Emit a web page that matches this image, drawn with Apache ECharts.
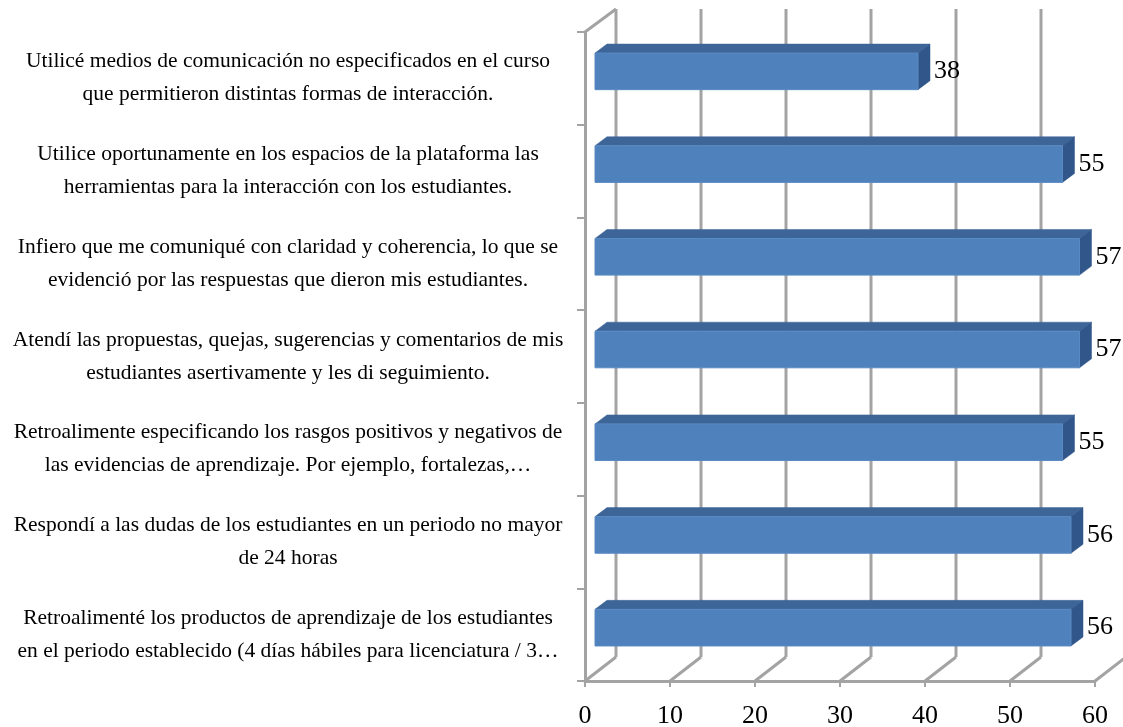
<!DOCTYPE html>
<html>
<head>
<meta charset="utf-8">
<script src="https://cdn.jsdelivr.net/npm/echarts@6/dist/echarts.min.js"></script>
<style>
  html, body { margin: 0; padding: 0; background: #ffffff; }
  #chart { width: 1123px; height: 727px; }
</style>
</head>
<body>
<div id="chart"></div>
<script>
// ---- data ----
const categories = [
  "Utilicé medios de comunicación no especificados en el curso\nque permitieron distintas formas de interacción.",
  "Utilice oportunamente en los espacios de la plataforma las\nherramientas para la interacción con los estudiantes.",
  "Infiero que me comuniqué con claridad y coherencia, lo que se\nevidenció por las respuestas que dieron mis estudiantes.",
  "Atendí las propuestas, quejas, sugerencias y comentarios de mis\nestudiantes asertivamente y les di seguimiento.",
  "Retroalimente especificando los rasgos positivos y negativos de\nlas evidencias de aprendizaje. Por ejemplo, fortalezas,…",
  "Respondí a las dudas de los estudiantes en un periodo no mayor\nde 24 horas",
  "Retroalimenté los productos de aprendizaje de los estudiantes\nen el periodo establecido (4 días hábiles para licenciatura / 3…"
];
const values = [38, 55, 57, 57, 55, 56, 56];
const xTicks = [0, 10, 20, 30, 40, 50, 60];

// ---- style constants ----
const GRID_COLOR = '#a3a3a3';
const WALL_DX = 31, WALL_DY = -24;      // depth of the back wall
const BAR_DX = 10, BAR_DY = -7;         // bar front face offset
const DEPTH_DX = 12, DEPTH_DY = -9;     // bar depth
const BAR_FRAC = 0.395;
const SERIF = '"Liberation Serif", "Times New Roman", serif';

const chart = echarts.init(document.getElementById('chart'), null, { renderer: 'canvas' });

const xMax = xTicks[xTicks.length - 1];

const option = {
  animation: false,
  backgroundColor: '#ffffff',
  grid: { left: 585, right: 28, top: 32, bottom: 46, containLabel: false, outerBoundsMode: 'none' },
  xAxis: {
    type: 'value',
    min: xTicks[0],
    max: xMax,
    interval: xTicks[1] - xTicks[0],
    axisLine: { show: true, lineStyle: { color: GRID_COLOR, width: 3 } },
    axisTick: { show: true, length: 6, lineStyle: { color: GRID_COLOR, width: 2 } },
    splitLine: { show: false },
    axisLabel: { color: '#000', fontSize: 26, fontFamily: SERIF, margin: 22 }
  },
  yAxis: {
    type: 'category',
    inverse: true,
    data: categories,
    axisLine: { show: true, lineStyle: { color: GRID_COLOR, width: 3 } },
    axisTick: { show: true, length: 8, lineStyle: { color: GRID_COLOR, width: 2 } },
    splitLine: { show: false },
    axisLabel: {
      color: '#000', fontSize: 21.5, fontFamily: SERIF, lineHeight: 33,
      align: 'center', margin: 297
    }
  },
  series: [
    {
      type: 'custom',
      z: 1,
      silent: true,
      data: xTicks.map(v => [v, 0]),
      encode: { x: 0, y: 1 },
      renderItem: function (params, api) {
        const cs = params.coordSys;
        const v = api.value(0);
        const x = api.coord([v, 0])[0];
        const top = cs.y, bottom = cs.y + cs.height;
        const st = { stroke: GRID_COLOR, lineWidth: 3, fill: null };
        const children = [
          { type: 'line', shape: { x1: x, y1: bottom, x2: x + WALL_DX, y2: bottom + WALL_DY }, style: st }
        ];
        if (v < xMax) {
          children.push({ type: 'line', shape: { x1: x + WALL_DX, y1: top + WALL_DY + 1, x2: x + WALL_DX, y2: bottom + WALL_DY }, style: st });
        }
        if (v === xTicks[0]) {
          children.push({ type: 'line', shape: { x1: x, y1: top, x2: x + WALL_DX, y2: top + WALL_DY + 1 }, style: st });
        }
        return { type: 'group', children: children };
      }
    },
    {
      type: 'custom',
      z: 3,
      data: values.map((v, i) => [v, i]),
      encode: { x: 0, y: 1 },
      renderItem: function (params, api) {
        const v = api.value(0), idx = api.value(1);
        const p0 = api.coord([0, idx]);
        const p1 = api.coord([v, idx]);
        const band = api.size([0, 1])[1];
        const h = band * BAR_FRAC;
        const x0 = p0[0] + BAR_DX, x1 = p1[0] + BAR_DX;
        const cy = p0[1] + BAR_DY;
        const yT = cy - h / 2, yB = cy + h / 2;
        return {
          type: 'group',
          children: [
            { type: 'polygon', shape: { points: [[x0, yT], [x1, yT], [x1 + DEPTH_DX, yT + DEPTH_DY], [x0 + DEPTH_DX, yT + DEPTH_DY]] },
              style: { fill: '#3d6597', stroke: '#3d6597', lineWidth: 0.5 } },
            { type: 'polygon', shape: { points: [[x1, yT], [x1 + DEPTH_DX, yT + DEPTH_DY], [x1 + DEPTH_DX, yB + DEPTH_DY], [x1, yB]] },
              style: { fill: '#30568a', stroke: '#30568a', lineWidth: 0.5 } },
            { type: 'rect', shape: { x: x0, y: yT, width: x1 - x0, height: h },
              style: { fill: '#4f81bd', stroke: '#5a8ac4', lineWidth: 1 } },
            { type: 'text', x: x1 + DEPTH_DX + 4, y: cy,
              style: { text: String(v), fontSize: 26, fontFamily: SERIF, fill: '#000', align: 'left', verticalAlign: 'middle' } }
          ]
        };
      }
    }
  ]
};

chart.setOption(option);
</script>
</body>
</html>
